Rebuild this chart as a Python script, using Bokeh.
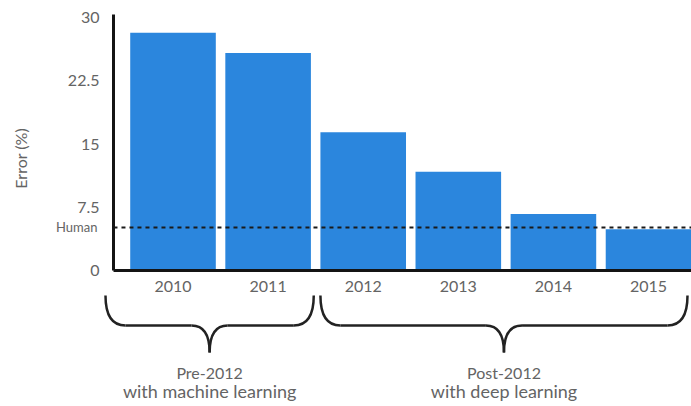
from math import pi

from bokeh.plotting import figure
from bokeh.models import Range1d, FixedTicker, CustomJSTickFormatter, Label
from bokeh.core.properties import value
from bokeh.embed import file_html
from bokeh.resources import INLINE

# ---------------- data ----------------
years = [2010, 2011, 2012, 2013, 2014, 2015]
error_pct = [28.2, 25.8, 16.4, 11.7, 6.7, 4.9]
human_error = 5.1
human_label = "Human"
y_ticks = [0, 7.5, 15, 22.5, 30]
y_title = "Error (%)"
group_titles = ["Pre-2012", "Post-2012"]
group_subtitles = ["with machine learning", "with deep learning"]
group_first = [2010, 2012]
group_last = [2011, 2015]

# ---------------- layout / style ----------------
FONT = value("Lato")
TEXT_COLOR = "#646464"
BAR_COLOR = "#2b86dd"
AXIS_COLOR = "#141414"
X_START, X_END = 2008.186, 2015.452
Y_MIN, Y_MAX = -16.13, 32.02
AXIS_X = 2009.374          # where the y axis stands (data units)
BRACE_PAD_L = [0.71, 0.45]
BRACE_PAD_R = [0.48, 0.41]
BRACE_TOP, BRACE_MID, BRACE_TIP = -2.96, -6.52, -9.72
BRACE_R_END, BRACE_R_TIP = 0.21, 0.19
TITLE_Y, SUBTITLE_Y = -12.10, -14.35

p = figure(width=691, height=406,
           x_range=Range1d(X_START, X_END), y_range=Range1d(Y_MIN, Y_MAX),
           output_backend="svg", toolbar_location=None,
           min_border=0, outline_line_color=None,
           background_fill_color="white", border_fill_color="white")
p.xgrid.visible = False
p.ygrid.visible = False

# bars
p.vbar(x=years, top=error_pct, bottom=0, width=0.9,
       fill_color=BAR_COLOR, line_color=None)

# human dashed line
p.segment(x0=[AXIS_X], y0=[human_error], x1=[X_END], y1=[human_error],
          line_color="#1a1a1a", line_width=2, line_dash="4 4")
p.text(x=[AXIS_X], y=[human_error], text=[human_label], x_offset=-16,
       text_align="right", text_baseline="middle", text_font=FONT,
       text_font_size="13px", text_color=TEXT_COLOR)

# axes
xa = p.xaxis[0]
xa.fixed_location = 0
xa.bounds = (AXIS_X, X_END)
xa.ticker = FixedTicker(ticks=years)
xa.formatter = CustomJSTickFormatter(code="return tick.toFixed(0)")
ya = p.yaxis[0]
ya.fixed_location = AXIS_X
ya.bounds = (0, 30.4)
ya.ticker = FixedTicker(ticks=y_ticks)
ya.formatter = CustomJSTickFormatter(code="return tick.toString()")
for ax in (xa, ya):
    ax.axis_line_color = AXIS_COLOR
    ax.axis_line_width = 3
    ax.major_tick_line_color = None
    ax.minor_tick_line_color = None
    ax.major_label_text_font = "Lato"
    ax.major_label_text_color = TEXT_COLOR
    ax.major_label_text_font_size = "16px"
xa.major_label_standoff = 5
ya.major_label_standoff = 8

p.add_layout(Label(x=AXIS_X, y=13.3, x_offset=-93, text=y_title, angle=pi / 2,
                   text_align="center", text_baseline="middle", text_font="Lato",
                   text_font_size="16px", text_color=TEXT_COLOR))

# braces and group captions
qx0, qy0, qx1, qy1, qcx, qcy = [], [], [], [], [], []
sx0, sx1, sy = [], [], []
centers = []
for first, last, pl, pr in zip(group_first, group_last, BRACE_PAD_L, BRACE_PAD_R):
    a = first - pl
    b = last + pr
    c = (a + b) / 2
    centers.append(c)
    # left end
    qx0 += [a]; qy0 += [BRACE_TOP]; qx1 += [a + BRACE_R_END]; qy1 += [BRACE_MID]; qcx += [a]; qcy += [BRACE_MID]
    # right end
    qx0 += [b]; qy0 += [BRACE_TOP]; qx1 += [b - BRACE_R_END]; qy1 += [BRACE_MID]; qcx += [b]; qcy += [BRACE_MID]
    # tip
    qx0 += [c - BRACE_R_TIP, c + BRACE_R_TIP]; qy0 += [BRACE_MID, BRACE_MID]
    qx1 += [c, c]; qy1 += [BRACE_TIP, BRACE_TIP]; qcx += [c, c]; qcy += [BRACE_MID, BRACE_MID]
    sx0 += [a + BRACE_R_END, c + BRACE_R_TIP]
    sx1 += [c - BRACE_R_TIP, b - BRACE_R_END]
    sy += [BRACE_MID, BRACE_MID]

p.quadratic(x0=qx0, y0=qy0, x1=qx1, y1=qy1, cx=qcx, cy=qcy,
            line_color="#222222", line_width=2.5)
p.segment(x0=sx0, y0=sy, x1=sx1, y1=sy, line_color="#222222", line_width=2.5)
p.text(x=centers, y=[TITLE_Y] * len(centers), text=group_titles,
       text_align="center", text_baseline="middle", text_font=FONT,
       text_font_size="16px", text_color=TEXT_COLOR)
p.text(x=centers, y=[SUBTITLE_Y] * len(centers), text=group_subtitles,
       text_align="center", text_baseline="middle", text_font=FONT,
       text_font_size="18px", text_color=TEXT_COLOR)

open("out.html", "w").write(file_html(p, INLINE))
